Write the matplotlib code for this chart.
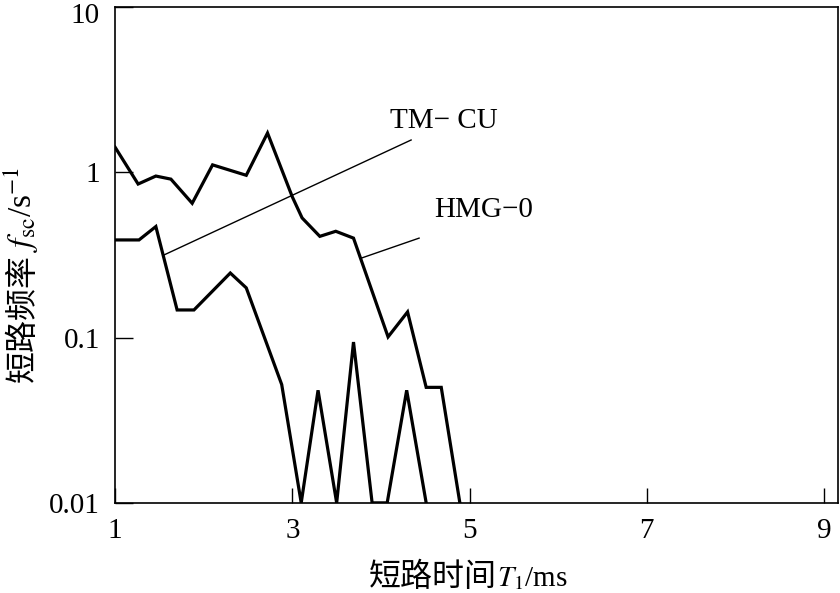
import matplotlib
matplotlib.use('Agg')
import matplotlib.pyplot as plt
import matplotlib.transforms as mtransforms

plt.rcParams['font.family'] = ['Liberation Serif', 'Noto Sans CJK SC', 'DejaVu Sans']
plt.rcParams['mathtext.fontset'] = 'stix'

# HMG-0 (upper curve)
hmg_t = [1.0, 1.26, 1.46, 1.63, 1.87, 2.10, 2.48, 2.72, 3.00, 3.11, 3.31, 3.49,
         3.69, 4.08, 4.30, 4.51, 4.68, 4.89]
hmg_f = [1.42, 0.85, 0.95, 0.91, 0.65, 1.11, 0.96, 1.73, 0.71, 0.53, 0.41, 0.44,
         0.40, 0.101, 0.143, 0.05, 0.05, 0.01]

# TM-CU (lower curve)
tm_t = [1.0, 1.27, 1.46, 1.70, 1.89, 2.30, 2.48, 2.88, 3.10, 3.29, 3.50, 3.69,
        3.90, 4.07, 4.29, 4.51]
tm_f = [0.39, 0.39, 0.47, 0.147, 0.147, 0.246, 0.20, 0.052, 0.01, 0.048, 0.01, 0.094,
        0.01, 0.01, 0.048, 0.01]

x_ticks = [1, 3, 5, 7, 9]
y_ticks = [0.01, 0.1, 1, 10]
y_tick_labels = ['0.01', '0.1', '1', '10']

fig = plt.figure(figsize=(8.4, 5.93), dpi=100)
ax = fig.add_axes([0.137, 0.152, 0.861, 0.836])

ax.plot(hmg_t, hmg_f, color='black', lw=2.3, solid_joinstyle='miter')
ax.plot(tm_t, tm_f, color='black', lw=2.3, solid_joinstyle='miter')

# leader lines and labels
ax.plot([1.55, 4.34], [0.316, 1.57], color='black', lw=1.0)
ax.plot([3.78, 4.43], [0.303, 0.40], color='black', lw=1.0)
ax.text(4.10, 2.04, 'TM\u2212 CU', fontsize=21, va='center', ha='left')
ax.text(4.60, 0.59, 'HMG\u22120', fontsize=21, va='center', ha='left')

ax.set_yscale('log')
ax.set_xlim(1, 9.16)
ax.set_ylim(0.01, 10)
ax.set_xticks(x_ticks)
ax.set_xticklabels([str(v) for v in x_ticks])
ax.set_yticks(y_ticks)
ax.set_yticklabels(y_tick_labels)
ax.minorticks_off()
ax.tick_params(axis='x', direction='in', length=11, width=1.0, labelsize=21, pad=11)
ax.tick_params(axis='y', direction='in', length=13, width=1.0, labelsize=21, pad=11)
for sp in ax.spines.values():
    sp.set_linewidth(1.2)

# nudge the top "10" label down a little so it stays inside the figure
top_lbl = ax.yaxis.get_major_ticks()[-1].label1
top_lbl.set_transform(top_lbl.get_transform() +
                      mtransforms.ScaledTranslation(0, -4 / 72, fig.dpi_scale_trans))

# axis titles: Chinese part and math part drawn side by side
fig.text(0.591, 0.012, '短路时间', fontsize=23, family='Noto Sans CJK SC',
         ha='right', va='baseline', rotation_mode='anchor')
fig.text(0.592, 0.012, '$T_1$/ms', fontsize=21, ha='left', va='baseline',
         rotation_mode='anchor')
fig.text(0.038, 0.571, '短路频率', fontsize=23, family='Noto Sans CJK SC', rotation=90,
         ha='right', va='baseline', rotation_mode='anchor')
fig.text(0.038, 0.575, '$f_{\\rm sc}$/s$^{-1}$', fontsize=24, rotation=90,
         ha='left', va='baseline', rotation_mode='anchor')

fig.savefig('out.png', dpi=100)
